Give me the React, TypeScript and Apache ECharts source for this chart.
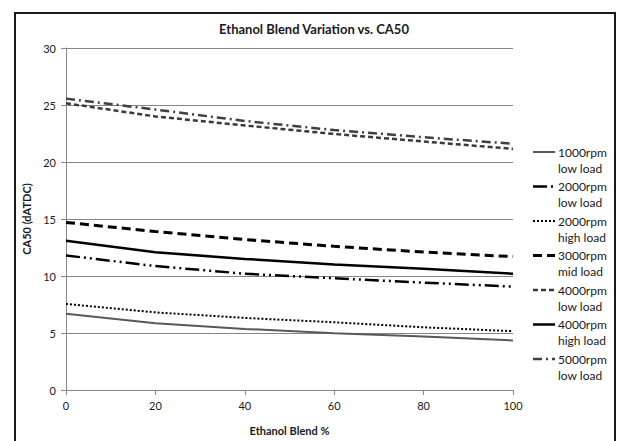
import React, { useEffect, useRef } from "react";
import * as echarts from "echarts";

const blend = [0, 20, 40, 60, 80, 100];
const xTicks = [0, 20, 40, 60, 80, 100];
const yTicks = [0, 5, 10, 15, 20, 25, 30];

const rpm1000Low = [6.68, 5.85, 5.36, 4.98, 4.69, 4.35];
const rpm2000Low = [11.8, 10.87, 10.2, 9.8, 9.42, 9.07];
const rpm2000High = [7.55, 6.81, 6.32, 5.94, 5.5, 5.16];
const rpm3000Mid = [14.7, 13.9, 13.2, 12.6, 12.1, 11.7];
const rpm4000Low = [25.15, 24.0, 23.2, 22.46, 21.8, 21.15];
const rpm4000High = [13.1, 12.08, 11.5, 11.0, 10.63, 10.2];
const rpm5000Low = [25.56, 24.6, 23.6, 22.8, 22.17, 21.6];

const seriesNames = [
  ["1000rpm", "low load"],
  ["2000rpm", "low load"],
  ["2000rpm", "high load"],
  ["3000rpm", "mid load"],
  ["4000rpm", "low load"],
  ["4000rpm", "high load"],
  ["5000rpm", "low load"],
];
const seriesValues = [rpm1000Low, rpm2000Low, rpm2000High, rpm3000Mid, rpm4000Low, rpm4000High, rpm5000Low];

const styles: any[] = [
  { color: "#595959", width: 2, type: "solid" },
  { color: "#000000", width: 2.5, type: [14, 4, 2, 4, 2, 4] },
  { color: "#000000", width: 2, type: [2, 2] },
  { color: "#000000", width: 3, type: [9, 5] },
  { color: "#3a3a3a", width: 2.5, type: [5, 3] },
  { color: "#000000", width: 2.5, type: "solid" },
  { color: "#404040", width: 2.5, type: [9, 4, 2, 4] },
];

const FONT = "Lato, 'Open Sans', sans-serif";

export default function App() {
  const ref = useRef<HTMLDivElement>(null);
  useEffect(() => {
    if (!ref.current) return;
    const chart = echarts.init(ref.current, null, { renderer: "svg" });
    const legendGraphics: any[] = [];
    seriesNames.forEach((nm, i) => {
      const y0 = 152 + i * 34.5;
      legendGraphics.push({
        type: "line",
        shape: { x1: 533, y1: y0, x2: 555, y2: y0 },
        style: { stroke: styles[i].color, lineWidth: styles[i].width, lineDash: styles[i].type === "solid" ? null : styles[i].type },
      });
      legendGraphics.push({
        type: "text",
        x: 558,
        y: y0,
        style: { text: nm[0], fill: "#1a1a1a", font: `12px ${FONT}`, textVerticalAlign: "middle" },
      });
      legendGraphics.push({
        type: "text",
        x: 558,
        y: y0 + 16,
        style: { text: nm[1], fill: "#1a1a1a", font: `12px ${FONT}`, textVerticalAlign: "middle" },
      });
    });
    chart.setOption({
      animation: false,
      backgroundColor: "#ffffff",
      title: {
        text: "Ethanol Blend Variation vs. CA50",
        left: 309,
        top: 17,
        textAlign: "center",
        textStyle: { fontFamily: FONT, fontSize: 13, fontWeight: "bold", color: "#1a1a1a" },
      },
      grid: { left: 66, right: 104, top: 48, bottom: 48 },
      xAxis: {
        type: "value",
        min: xTicks[0],
        max: xTicks[xTicks.length - 1],
        interval: 20,
        name: "Ethanol Blend %",
        nameLocation: "middle",
        nameGap: 35,
        nameTextStyle: { fontFamily: FONT, fontSize: 11, fontWeight: "bold", color: "#1a1a1a" },
        axisLine: { lineStyle: { color: "#868686", width: 1 } },
        axisTick: { show: true, length: 5, lineStyle: { color: "#868686" } },
        axisLabel: { fontFamily: FONT, fontSize: 11, color: "#1a1a1a", margin: 10 },
        splitLine: { show: false },
      },
      yAxis: {
        type: "value",
        min: yTicks[0],
        max: yTicks[yTicks.length - 1],
        interval: 5,
        name: "CA50 (dATDC)",
        nameLocation: "middle",
        nameGap: 27,
        nameTextStyle: { fontFamily: FONT, fontSize: 11, fontWeight: "bold", color: "#1a1a1a" },
        axisLine: { show: true, lineStyle: { color: "#868686", width: 1 } },
        axisTick: { show: true, length: 5, lineStyle: { color: "#868686" } },
        axisLabel: { fontFamily: FONT, fontSize: 11, color: "#1a1a1a", margin: 10 },
        splitLine: { show: true, lineStyle: { color: "#868686", width: 1 } },
      },
      graphic: [
        {
          type: "rect",
          shape: { x: 15, y: 13, width: 600, height: 440 },
          style: { fill: "none", stroke: "#1a1a1a", lineWidth: 2 },
          z: 100,
        },
        ...legendGraphics,
      ],
      series: seriesNames.map((nm, i) => ({
        name: nm.join(" "),
        type: "line",
        symbol: "none",
        data: blend.map((x, j) => [x, seriesValues[i][j]]),
        lineStyle: { color: styles[i].color, width: styles[i].width, type: styles[i].type },
      })),
    });
    return () => chart.dispose();
  }, []);
  return <div ref={ref} style={{ position: "absolute", left: 0, top: 0, width: 617, height: 441 }} />;
}
